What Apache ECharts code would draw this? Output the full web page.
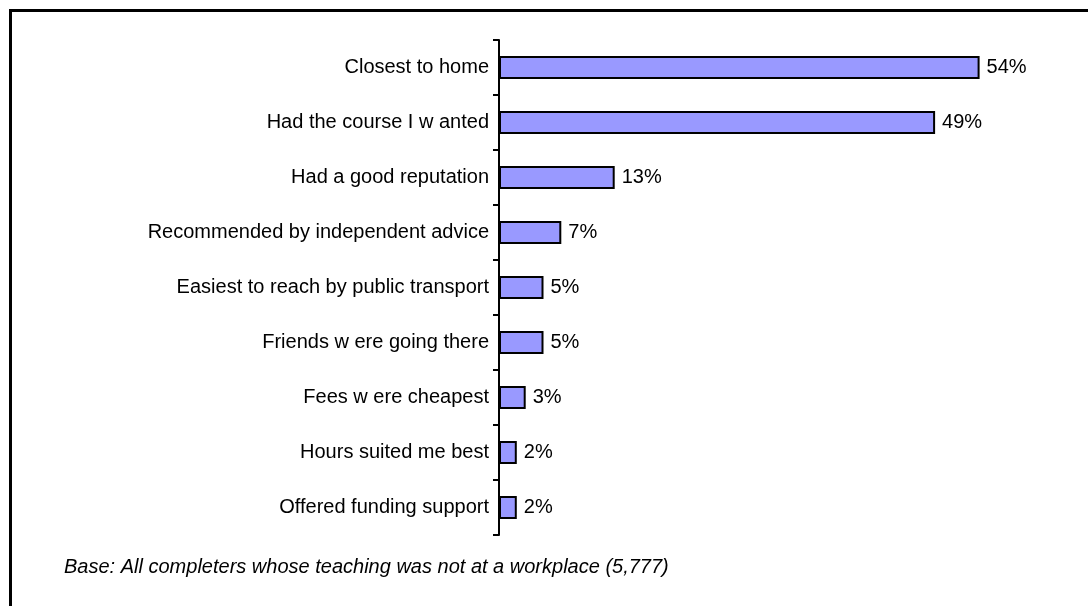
<!DOCTYPE html>
<html>
<head>
<meta charset="utf-8">
<script src="https://cdn.jsdelivr.net/npm/echarts@6/dist/echarts.min.js"></script>
<style>
  html, body { margin: 0; padding: 0; background: #fff; }
  #chart { width: 1088px; height: 606px; }
</style>
</head>
<body>
<div id="chart"></div>
<script>
// Reasons for choosing the college (percentage of completers)
const categories = [
  'Closest to home',
  'Had the course I w anted',
  'Had a good reputation',
  'Recommended by independent advice',
  'Easiest to reach by public transport',
  'Friends w ere going there',
  'Fees w ere cheapest',
  'Hours suited me best',
  'Offered funding support'
];
const values = [54, 49, 13, 7, 5, 5, 3, 2, 2];
const footnote = 'Base: All completers whose teaching was not at a workplace (5,777)';

const chart = echarts.init(document.getElementById('chart'), null, { renderer: 'canvas' });
const FONT = 'Liberation Sans, Arial, sans-serif';

chart.setOption({
  animation: false,
  backgroundColor: '#ffffff',
  grid: { left: 499, right: 55, top: 40, bottom: 71, containLabel: false },
  xAxis: {
    type: 'value',
    min: 0,
    max: 60,
    show: false
  },
  yAxis: {
    type: 'category',
    data: categories,
    inverse: true,
    axisLine: { show: true, lineStyle: { color: '#000', width: 2 } },
    axisTick: { show: true, length: 6, inside: false, lineStyle: { color: '#000', width: 2 } },
    axisLabel: { color: '#000', fontFamily: FONT, fontSize: 20, margin: 10 },
    splitLine: { show: false }
  },
  series: [{
    type: 'bar',
    data: values,
    barWidth: 23,
    itemStyle: { color: '#9999FF', borderColor: '#000', borderWidth: 2 },
    label: {
      show: true,
      position: 'right',
      distance: 7,
      formatter: '{c}%',
      color: '#000',
      fontFamily: FONT,
      fontSize: 20
    }
  }],
  graphic: [
    {
      type: 'rect',
      shape: { x: 10.5, y: 10.5, width: 2000, height: 2000 },
      style: { fill: 'none', stroke: '#000', lineWidth: 3 },
      silent: true
    },
    {
      type: 'text',
      left: 64,
      top: 557,
      style: {
        text: footnote,
        fill: '#000',
        font: 'italic 20px ' + FONT
      }
    }
  ]
});
</script>
</body>
</html>
